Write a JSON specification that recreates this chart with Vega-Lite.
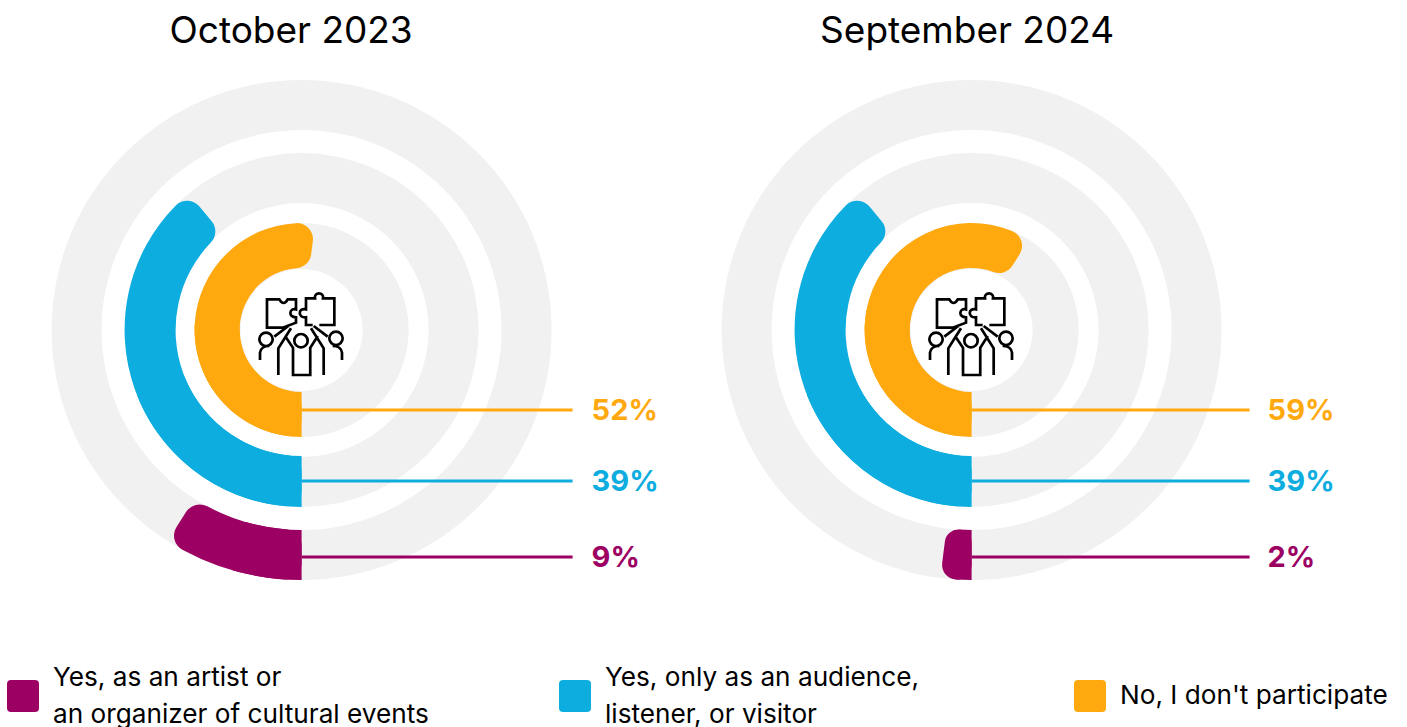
{
"width":1407,"height":727,"padding":0,"autosize":{"type":"none"},
"background":"white",
"config":{"view":{"stroke":null},"font":"Inter"},
"datasets":{
"shares":[
{"period":"October 2023","column":1,"center":0,"start":0,"category":"No, I don't participate","ring":1,"share":52,"squareEnd":26,"label":"52%"},
{"period":"October 2023","column":1,"center":0,"start":0,"category":"Yes, only as an audience, listener, or visitor","ring":2,"share":39,"squareEnd":19,"label":"39%"},
{"period":"October 2023","column":1,"center":0,"start":0,"category":"Yes, as an artist or an organizer of cultural events","ring":3,"share":9,"squareEnd":4.5,"label":"9%"},
{"period":"September 2024","column":2,"center":0,"start":0,"category":"No, I don't participate","ring":1,"share":59,"squareEnd":29,"label":"59%"},
{"period":"September 2024","column":2,"center":0,"start":0,"category":"Yes, only as an audience, listener, or visitor","ring":2,"share":39,"squareEnd":19,"label":"39%"},
{"period":"September 2024","column":2,"center":0,"start":0,"category":"Yes, as an artist or an organizer of cultural events","ring":3,"share":2,"squareEnd":1,"label":"2%"}
],
"periods":[{"period":"October 2023","column":1,"center":0,"start":0,"full":100},{"period":"September 2024","column":2,"center":0,"start":0,"full":100}],
"legend":[
{"category":"Yes, as an artist or an organizer of cultural events","column":3,"center":4,"lines":2,"text":"Yes, as an artist or\nan organizer of cultural events"},
{"category":"Yes, only as an audience, listener, or visitor","column":4,"center":4,"lines":2,"text":"Yes, only as an audience,\nlistener, or visitor"},
{"category":"No, I don't participate","column":5,"center":4,"lines":1,"text":"No, I don't participate"}
]
},
"encoding":{
"x":{"field":"column","type":"quantitative","axis":null,"scale":{"domain":[1,2,3,4,5],"range":[301.6,971.6,23,575,1090],"zero":false,"nice":false}},
"y":{"field":"center","type":"quantitative","axis":null,"scale":{"domain":[0,1,2,3,4],"range":[330,410,481,557,696],"zero":false,"nice":false}},
"color":{"field":"category","type":"nominal","legend":null,"scale":{"domain":["Yes, as an artist or an organizer of cultural events","Yes, only as an audience, listener, or visitor","No, I don't participate"],"range":["#9b0062","#0dade0","#ffa90f"]}}
},
"layer":[
{"data":{"name":"periods"},"mark":{"type":"arc","radius":250,"radius2":200},"encoding":{"color":{"value":"#f1f1f1"},"theta":{"field":"start","type":"quantitative","scale":{"domain":[0,100],"range":[3.14159265,9.42477796]}},"theta2":{"field":"full"}}},
{"data":{"name":"periods"},"mark":{"type":"arc","radius":177,"radius2":127},"encoding":{"color":{"value":"#f1f1f1"},"theta":{"field":"start","type":"quantitative"},"theta2":{"field":"full"}}},
{"data":{"name":"periods"},"mark":{"type":"arc","radius":107,"radius2":61},"encoding":{"color":{"value":"#f1f1f1"},"theta":{"field":"start","type":"quantitative"},"theta2":{"field":"full"}}},
{"data":{"name":"shares"},"transform":[{"filter":"datum.ring==3"}],"mark":{"type":"arc","radius":250,"radius2":200,"cornerRadius":16},"encoding":{"theta":{"field":"start","type":"quantitative"},"theta2":{"field":"share"}}},
{"data":{"name":"shares"},"transform":[{"filter":"datum.ring==2"}],"mark":{"type":"arc","radius":177,"radius2":126,"cornerRadius":16},"encoding":{"theta":{"field":"start","type":"quantitative"},"theta2":{"field":"share"}}},
{"data":{"name":"shares"},"transform":[{"filter":"datum.ring==1"}],"mark":{"type":"arc","radius":107,"radius2":62,"cornerRadius":16},"encoding":{"theta":{"field":"start","type":"quantitative"},"theta2":{"field":"share"}}},
{"data":{"name":"shares"},"transform":[{"filter":"datum.ring==3"}],"mark":{"type":"arc","radius":250,"radius2":200},"encoding":{"theta":{"field":"start","type":"quantitative"},"theta2":{"field":"squareEnd"}}},
{"data":{"name":"shares"},"transform":[{"filter":"datum.ring==2"}],"mark":{"type":"arc","radius":177,"radius2":126},"encoding":{"theta":{"field":"start","type":"quantitative"},"theta2":{"field":"squareEnd"}}},
{"data":{"name":"shares"},"transform":[{"filter":"datum.ring==1"}],"mark":{"type":"arc","radius":107,"radius2":62},"encoding":{"theta":{"field":"start","type":"quantitative"},"theta2":{"field":"squareEnd"}}},
{"data":{"name":"shares"},"transform":[{"filter":"datum.period=='October 2023'"}],"mark":{"type":"rule","strokeWidth":3,"x2Offset":271},"encoding":{"y":{"field":"ring","type":"quantitative"},"x2":{"field":"column"}}},
{"data":{"name":"shares"},"transform":[{"filter":"datum.period=='September 2024'"}],"mark":{"type":"rule","strokeWidth":3,"x2Offset":278},"encoding":{"y":{"field":"ring","type":"quantitative"},"x2":{"field":"column"}}},
{"data":{"name":"shares"},"transform":[{"filter":"datum.period=='October 2023'"}],"mark":{"type":"text","align":"left","baseline":"middle","dx":290,"dy":1,"fontSize":29,"fontWeight":700},"encoding":{"y":{"field":"ring","type":"quantitative"},"text":{"field":"label"}}},
{"data":{"name":"shares"},"transform":[{"filter":"datum.period=='September 2024'"}],"mark":{"type":"text","align":"left","baseline":"middle","dx":296,"dy":1,"fontSize":29,"fontWeight":700},"encoding":{"y":{"field":"ring","type":"quantitative"},"text":{"field":"label"}}},
{"data":{"name":"periods"},"transform":[{"filter":"datum.period=='October 2023'"}],"mark":{"type":"text","align":"center","baseline":"middle","dx":-10.5,"dy":-298.5,"fontSize":37},"encoding":{"color":{"value":"#000"},"text":{"field":"period"}}},
{"data":{"name":"periods"},"transform":[{"filter":"datum.period=='September 2024'"}],"mark":{"type":"text","align":"center","baseline":"middle","dx":-4.5,"dy":-298.5,"fontSize":37},"encoding":{"color":{"value":"#000"},"text":{"field":"period"}}},
{"data":{"name":"periods"},"mark":{"type":"point","filled":false,"opacity":1,"strokeWidth":2.7,"size":7056,"yOffset":4,"xOffset":-0.6,"shape":"M-0.81,-0.825L-0.516,-0.825Q-0.413,-0.651,-0.317,-0.825L-0.119,-0.825L-0.119,-0.587C-0.278,-0.635,-0.317,-0.397,-0.119,-0.397L-0.119,-0.27L-0.437,-0.151L-0.81,-0.151ZM0.278,-0.214L0.119,-0.214L0.119,-0.397C-0.079,-0.373,-0.079,-0.635,0.119,-0.587L0.119,-0.849L0.333,-0.849C0.302,-1.008,0.556,-1.008,0.524,-0.849L0.794,-0.849L0.794,-0.214L0.437,-0.214M-0.159,0.159A0.159,0.159,0,1,0,0.159,0.159A0.159,0.159,0,1,0,-0.159,0.159ZM-0.992,0.127A0.159,0.159,0,1,0,-0.674,0.127A0.159,0.159,0,1,0,-0.992,0.127ZM0.674,0.103A0.159,0.159,0,1,0,0.992,0.103A0.159,0.159,0,1,0,0.674,0.103ZM-0.976,0.619L-0.976,0.444Q-0.952,0.286,-0.754,0.286M0.976,0.619L0.976,0.444Q0.952,0.286,0.754,0.286M-0.635,0.063L-0.302,-0.19M0.635,0.063L0.302,-0.19M-0.238,-0.135L-0.54,0.341L-0.54,0.976M0.238,-0.135L0.54,0.341L0.54,0.976M-0.38,0.05L-0.19,0.33L-0.19,0.976L0.22,0.976L0.22,0.33L0.4,0.05"},"encoding":{"color":{"value":"#000"}}},
{"data":{"name":"legend"},"mark":{"type":"point","filled":true,"opacity":1,"size":1024,"shape":"M-0.75,-1L0.75,-1Q1,-1,1,-0.75L1,0.75Q1,1,0.75,1L-0.75,1Q-1,1,-1,0.75L-1,-0.75Q-1,-1,-0.75,-1Z"}},
{"data":{"name":"legend"},"transform":[{"filter":"datum.lines==2"}],"mark":{"type":"text","align":"left","baseline":"middle","dx":30,"dy":-18.5,"fontSize":26.2,"lineBreak":"\n","lineHeight":37},"encoding":{"color":{"value":"#000"},"text":{"field":"text"}}},
{"data":{"name":"legend"},"transform":[{"filter":"datum.lines==1"}],"mark":{"type":"text","align":"left","baseline":"middle","dx":30,"fontSize":26.2},"encoding":{"color":{"value":"#000"},"text":{"field":"text"}}}
]
}
